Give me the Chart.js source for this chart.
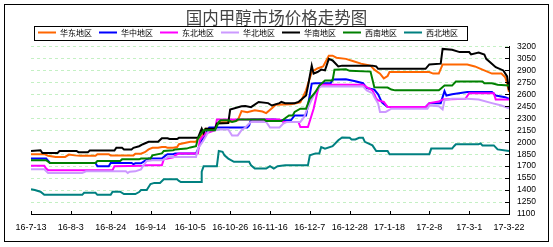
<!DOCTYPE html>
<html>
<head>
<meta charset="utf-8">
<script src="https://cdn.jsdelivr.net/npm/chart.js@4/dist/chart.umd.min.js"></script>
<style>
  html, body { margin: 0; padding: 0; background: #fff; }
  #wrap { width: 553px; height: 247px; }
</style>
</head>
<body>
<div id="wrap"><canvas id="c" width="553" height="247"></canvas></div>
<script>
// x tick labels (every 21 days starting 16-7-13), x values are days since 16-7-13
const xTickLabels = ['16-7-13','16-8-3','16-8-24','16-9-14','16-10-5','16-10-26','16-11-16','16-12-7','16-12-28','17-1-18','17-2-8','17-3-1','17-3-22'];
const seriesNames = ['华东地区','华中地区','东北地区','华北地区','华南地区','西南地区','西北地区'];
const yTicks = { min: 1100, max: 3200, step: 150 };

const huadong = [[0,1850],[7,1850],[9,1830],[13,1815],[18,1815],[20,1845],[23,1835],[26,1830],[34,1830],[35,1850],[41,1850],[42,1835],[54,1835],[55,1855],[58,1855],[60,1875],[62,1910],[64,1930],[67,1930],[69,1940],[71,1940],[72,1930],[75,1930],[77,1940],[78,1975],[81,1990],[84,2005],[87,2005],[88,2050],[90,2065],[92,2170],[97,2170],[99,2250],[104,2250],[105,2260],[109,2275],[111,2390],[114,2375],[118,2400],[122,2385],[124,2365],[127,2425],[129,2470],[137,2475],[142,2500],[145,2650],[148,2880],[151,2925],[154,2950],[157,3085],[159,3085],[161,3060],[166,3045],[170,3015],[174,2985],[179,2960],[181,2910],[184,2860],[186,2800],[188,2830],[189,2880],[210,2880],[212,2860],[215,2860],[217,2975],[230,2975],[234,2950],[238,2910],[243,2860],[248,2860],[250,2815],[251,2735],[252,2630]];
const huazhong = [[0,1795],[8,1795],[10,1740],[34,1740],[35,1700],[41,1700],[42,1740],[53,1740],[54,1725],[55,1735],[58,1735],[60,1765],[62,1795],[69,1795],[71,1835],[72,1850],[75,1850],[76,1860],[87,1860],[88,1910],[90,2025],[92,2085],[93,2150],[94,2185],[114,2185],[115,2210],[116,2285],[129,2285],[130,2275],[137,2275],[139,2335],[145,2335],[146,2460],[148,2735],[150,2740],[158,2740],[159,2785],[166,2790],[171,2765],[175,2740],[177,2680],[181,2660],[183,2600],[185,2500],[188,2440],[208,2440],[210,2490],[216,2490],[218,2640],[219,2585],[222,2600],[230,2630],[243,2630],[245,2585],[250,2565],[252,2545]];
const dongbei = [[0,1705],[7,1705],[8,1670],[9,1650],[43,1650],[44,1700],[59,1705],[60,1710],[69,1710],[70,1785],[75,1810],[76,1835],[78,1860],[88,1860],[89,2025],[92,2110],[97,2150],[98,2285],[131,2285],[133,2255],[141,2255],[142,2190],[146,2190],[149,2420],[151,2630],[152,2710],[153,2720],[175,2720],[177,2690],[180,2650],[182,2545],[183,2525],[186,2505],[188,2440],[208,2440],[210,2490],[215,2510],[217,2535],[229,2545],[231,2615],[244,2615],[245,2535],[252,2535]];
const huabei = [[0,1660],[7,1660],[9,1615],[27,1615],[29,1635],[50,1635],[51,1615],[52,1630],[55,1635],[58,1660],[59,1700],[61,1765],[64,1775],[69,1775],[71,1795],[72,1815],[87,1815],[88,1920],[91,2025],[93,2110],[94,2150],[97,2150],[99,2160],[104,2160],[106,2085],[109,2085],[111,2150],[113,2185],[115,2235],[116,2255],[124,2255],[126,2185],[131,2185],[133,2235],[135,2255],[142,2255],[144,2315],[145,2380],[147,2485],[149,2585],[151,2670],[153,2700],[175,2700],[177,2650],[180,2615],[181,2565],[183,2485],[184,2380],[187,2380],[190,2420],[209,2420],[210,2460],[215,2450],[217,2410],[218,2525],[222,2545],[230,2545],[236,2535],[243,2490],[248,2460],[252,2425]];
const huanan = [[0,1890],[5,1900],[6,1865],[14,1865],[15,1890],[24,1890],[25,1875],[30,1875],[31,1895],[44,1895],[45,1930],[48,1930],[49,1910],[53,1910],[54,1930],[57,1950],[59,1975],[62,2005],[67,2005],[69,2050],[72,2050],[73,2040],[77,2040],[78,2055],[88,2055],[90,2170],[91,2115],[92,2170],[97,2170],[98,2235],[104,2240],[105,2410],[111,2450],[113,2455],[116,2440],[120,2505],[125,2490],[127,2460],[131,2490],[132,2505],[134,2490],[139,2490],[141,2505],[143,2545],[145,2585],[146,2700],[148,2960],[149,2860],[151,2880],[153,2910],[155,2900],[157,3045],[159,3025],[162,2950],[164,2960],[180,2960],[182,2950],[183,2920],[208,2920],[210,2975],[216,2985],[217,3170],[222,3160],[226,3130],[231,3130],[232,3100],[236,3125],[239,3100],[240,3045],[245,2940],[249,2900],[251,2825],[252,2650]];
const xinan = [[0,1775],[8,1775],[10,1740],[34,1740],[35,1765],[47,1765],[48,1785],[57,1785],[58,1795],[63,1795],[64,1835],[69,1860],[70,1890],[75,1900],[76,1910],[82,1920],[84,1935],[87,1950],[88,2045],[91,2150],[97,2150],[99,2255],[100,2275],[104,2275],[106,2255],[108,2265],[109,2285],[123,2285],[124,2265],[132,2265],[134,2300],[136,2335],[138,2335],[139,2380],[142,2420],[145,2420],[147,2545],[150,2630],[152,2710],[155,2775],[159,2775],[160,2910],[166,2915],[168,2895],[179,2885],[181,2690],[188,2685],[190,2660],[192,2650],[215,2650],[216,2670],[218,2710],[222,2710],[224,2760],[238,2760],[239,2740],[243,2740],[246,2720],[252,2710]];
const xibei = [[0,1410],[2,1400],[5,1380],[7,1340],[27,1340],[28,1365],[34,1365],[35,1340],[42,1340],[43,1380],[47,1380],[49,1350],[55,1350],[57,1375],[58,1400],[61,1400],[63,1475],[65,1490],[68,1490],[70,1535],[77,1535],[78,1515],[79,1500],[90,1500],[90,1630],[91,1700],[98,1700],[99,1890],[101,1880],[102,1835],[104,1795],[107,1755],[115,1755],[116,1710],[118,1670],[124,1670],[126,1700],[128,1670],[130,1700],[134,1710],[146,1710],[147,1835],[150,1860],[152,1860],[153,1940],[155,1920],[159,1950],[162,2025],[164,2060],[168,2055],[169,2035],[171,2035],[173,2055],[175,2055],[176,2005],[180,1960],[182,1890],[188,1890],[189,1850],[210,1850],[211,1920],[222,1920],[223,1950],[224,1975],[236,1975],[237,1985],[238,1960],[244,1960],[246,1910],[252,1890]];

const seriesData = [huadong, huazhong, dongbei, huabei, huanan, xinan, xibei];
const seriesColors = ['#FF6600','#0000FF','#FF00FF','#CC99FF','#000000','#008000','#008080'];

const decor = {
  id: 'decor',
  afterDraw(chart) {
    const ctx = chart.ctx;
    ctx.save();
    ctx.strokeStyle = '#000';
    ctx.lineWidth = 1;
    ctx.setLineDash([]);
    ctx.strokeRect(4.5, 4.5, 544, 237);
    const hb = chart.legend.legendHitBoxes;
    if (hb && hb.length) {
      const first = hb[0], last = hb[hb.length - 1];
      const l = Math.round(first.left) - 3.5;
      const r = Math.round(last.left + last.width) + 9.5;
      const t = Math.floor(first.top - 2) + 0.5;
      ctx.strokeRect(l, t, r - l, 14);
    }
    const xs = chart.scales.x, ys = chart.scales.y;
    ctx.beginPath();
    xs.ticks.forEach(tk => {
      const px = Math.round(xs.getPixelForValue(tk.value)) + 0.5;
      ctx.moveTo(px, xs.top);
      ctx.lineTo(px, xs.top - 3);
    });
    ys.ticks.forEach(tk => {
      const py = Math.round(ys.getPixelForValue(tk.value)) + 0.5;
      ctx.moveTo(ys.left, py);
      ctx.lineTo(ys.left - 4, py);
    });
    ctx.stroke();
    ctx.restore();
  }
};

new Chart(document.getElementById('c'), {
  type: 'line',
  data: {
    datasets: seriesNames.map((name, i) => ({
      label: name,
      data: seriesData[i].map(([x, y]) => ({ x, y })),
      xAxisID: 'x',
      yAxisID: 'y',
      borderColor: seriesColors[i],
      backgroundColor: seriesColors[i],
      borderWidth: 2,
      pointRadius: 0,
      tension: 0,
      fill: false,
      order: seriesNames.length - i
    }))
  },
  options: {
    responsive: false,
    animation: false,
    devicePixelRatio: 1,
    layout: { padding: { left: 0, right: 0, top: 0, bottom: 0 } },
    plugins: {
      title: {
        display: true,
        text: '国内甲醇市场价格走势图',
        color: '#444',
        font: { family: 'Noto Sans CJK SC', size: 16.5, weight: 'normal', lineHeight: 1 },
        padding: { top: 9, bottom: -4 }
      },
      legend: {
        display: true,
        position: 'top',
        align: 'start',
        fullSize: false,
        labels: {
          usePointStyle: true,
          pointStyle: 'line',
          pointStyleWidth: 18,
          padding: 7,
          color: '#000',
          font: { family: 'Noto Sans CJK SC', size: 8 },
          sort: (a, b) => a.datasetIndex - b.datasetIndex
        }
      },
      tooltip: { enabled: false }
    },
    scales: {
      x: {
        type: 'linear',
        min: 0,
        max: 252,
        grid: { display: false, drawTicks: false },
        border: { display: true, color: '#000', width: 1 },
        ticks: {
          stepSize: 21,
          autoSkip: false,
          maxRotation: 0,
          padding: 8,
          color: '#000',
          font: { family: 'Liberation Sans', size: 9 },
          callback: (v) => xTickLabels[Math.round(v / 21)]
        },
        afterFit: (s) => { s.height = 33; }
      },
      y: {
        type: 'linear',
        position: 'right',
        min: yTicks.min,
        max: yTicks.max,
        grid: {
          drawTicks: false,
          color: (c) => (c.tick && c.tick.value === yTicks.min) ? 'rgba(0,0,0,0)' : '#c4f0c4',
          lineWidth: 1
        },
        border: { display: true, color: '#000', width: 1, dash: [3, 3] },
        ticks: {
          stepSize: yTicks.step,
          autoSkip: false,
          padding: 8,
          color: '#000',
          font: { family: 'Liberation Sans', size: 8.5 },
          callback: (v) => String(v)
        },
        afterFit: (s) => { s.width = 44; }
      },
      yL: {
        type: 'linear',
        position: 'left',
        display: true,
        min: yTicks.min,
        max: yTicks.max,
        grid: { display: false, drawTicks: false },
        border: { display: false },
        ticks: { display: false },
        afterFit: (s) => { s.width = 31; }
      }
    }
  },
  plugins: [decor]
});
</script>
</body>
</html>
